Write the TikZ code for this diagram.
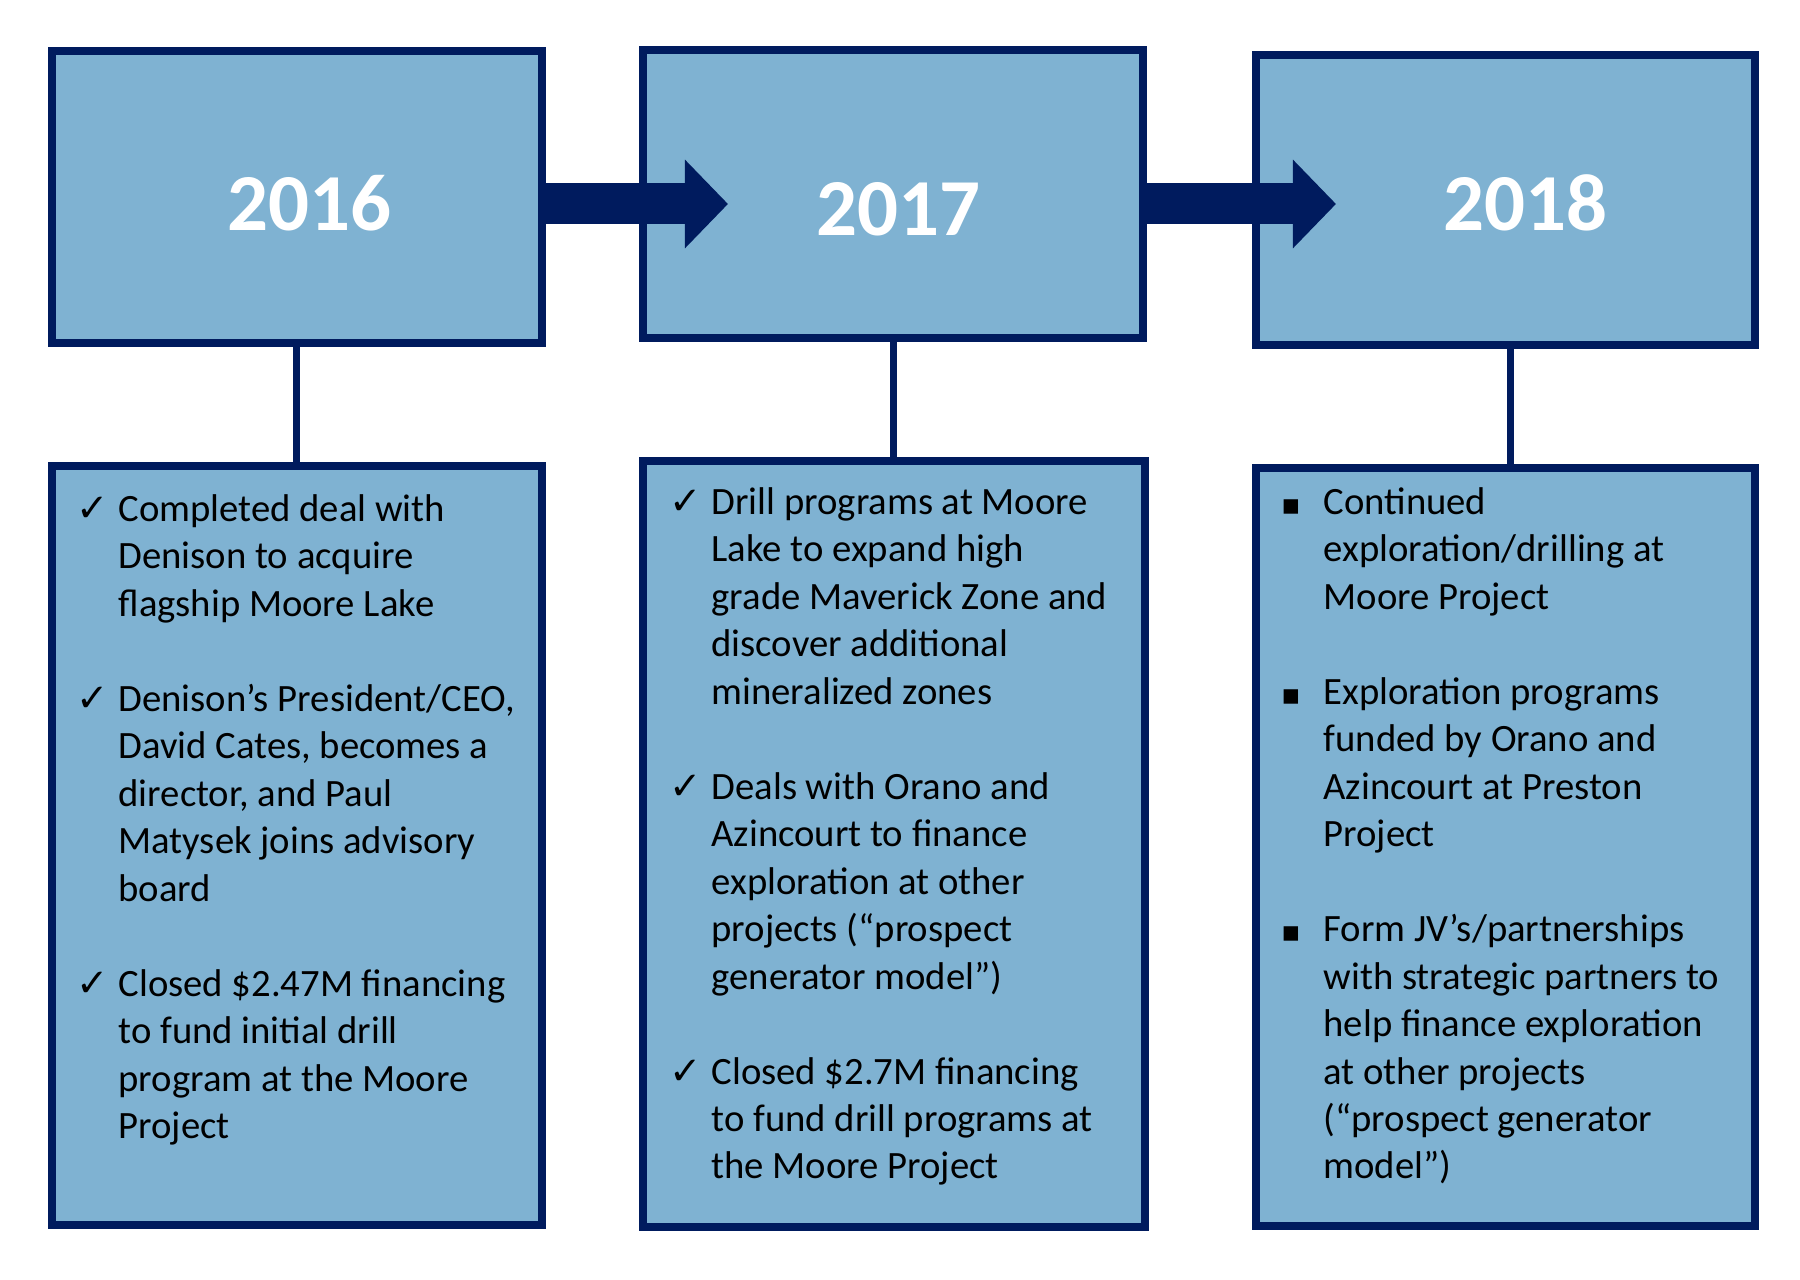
\documentclass[tikz,border=0pt]{standalone}
\usepackage{fontspec}
\setmainfont{Carlito}
\newfontfamily\symfont{DejaVu Sans}
\definecolor{BoxNavy}{HTML}{001B5E}
\definecolor{BoxBlue}{HTML}{7FB2D2}
\usetikzlibrary{positioning, arrows.meta, calc}

\newcommand{\ck}{\makebox[4.2mm][l]{\symfont ✓}}
\newcommand{\sq}{\makebox[4.2mm][l]{\symfont\scalebox{0.75}{▪}}}
\newcommand{\hg}{\hspace*{4.2mm}}

\tikzset{
  yearbox/.style={draw=BoxNavy, line width=0.8mm, fill=BoxBlue, inner sep=0pt},
  yeartext/.style={text=white, font=\fontsize{23}{28}\selectfont\bfseries, inner sep=0pt},
  notes/.style={anchor=north west, align=left, inner sep=0pt,
                font=\fontsize{11}{13.5}\selectfont},
  link/.style={draw=BoxNavy, line width=0.7mm},
  flow/.style={draw=BoxNavy, line width=4.1mm, -{Triangle[length=4.3mm, width=8.6mm]}}
}

\begin{document}
\begin{tikzpicture}[x=0.01cm, y=-0.01cm]
  \useasboundingbox (0,0) rectangle (1800,1280);

  % year boxes and connectors
  \draw[link] (296,340) coordinate (c16) -- (296,470) coordinate (d16);
  \draw[link] (893,340) coordinate (c17) -- (893,465) coordinate (d17);
  \draw[link] (1510,345) coordinate (c18) -- (1510,470) coordinate (d18);

  \node[yearbox, minimum width=49.0mm, minimum height=29.1mm] (t16) at (297,197) {};
  \node[yearbox, minimum width=50.0mm, minimum height=28.8mm] (t17) at (893,194) {};
  \node[yearbox, minimum width=49.9mm, minimum height=28.9mm] (t18) at (1505.5,200) {};

  \node[yearbox, minimum width=49.0mm, minimum height=75.9mm] (b16) at (297,845.5) {};
  \node[yearbox, minimum width=50.2mm, minimum height=76.6mm] (b17) at (894,844) {};
  \node[yearbox, minimum width=49.9mm, minimum height=75.8mm] (b18) at (1505.5,847) {};

  \node[yeartext] (y16) at ([xshift=1.2mm, yshift=-0.6mm]t16.center) {2016};
  \node[yeartext] (y17) at ([xshift=0.5mm, yshift=-1.5mm]t17.center) {2017};
  \node[yeartext] (y18) at ([xshift=2.0mm, yshift=-0.3mm]t18.center) {2018};

  % arrows
  \coordinate (a1) at (728,204);
  \coordinate (a2) at (1336,204);
  \draw[flow] (t16.east |- a1) -- (a1);
  \draw[flow] (t17.east |- a2) -- (a2);

  % notes
  \node[notes] (n16) at ($(b16.north west)+(28,32)$) {%
    \ck Completed deal with\\
    \hg Denison to acquire\\
    \hg flagship Moore Lake\\[13.5pt]
    \ck Denison’s President/CEO,\\
    \hg David Cates, becomes a\\
    \hg director, and Paul\\
    \hg Matysek joins advisory\\
    \hg board\\[13.5pt]
    \ck Closed \$2.47M financing\\
    \hg to fund initial drill\\
    \hg program at the Moore\\
    \hg Project};

  \node[notes] (n17) at ($(b17.north west)+(30,30)$) {%
    \ck Drill programs at Moore\\
    \hg Lake to expand high\\
    \hg grade Maverick Zone and\\
    \hg discover additional\\
    \hg mineralized zones\\[13.5pt]
    \ck Deals with Orano and\\
    \hg Azincourt to finance\\
    \hg exploration at other\\
    \hg projects (“prospect\\
    \hg generator model”)\\[13.5pt]
    \ck Closed \$2.7M financing\\
    \hg to fund drill programs at\\
    \hg the Moore Project};

  \node[notes] (n18) at ($(b18.north west)+(29,23)$) {%
    \sq Continued\\
    \hg exploration/drilling at\\
    \hg Moore Project\\[13.5pt]
    \sq Exploration programs\\
    \hg funded by Orano and\\
    \hg Azincourt at Preston\\
    \hg Project\\[13.5pt]
    \sq Form JV’s/partnerships\\
    \hg with strategic partners to\\
    \hg help finance exploration\\
    \hg at other projects\\
    \hg (“prospect generator\\
    \hg model”)};
\end{tikzpicture}
\end{document}
